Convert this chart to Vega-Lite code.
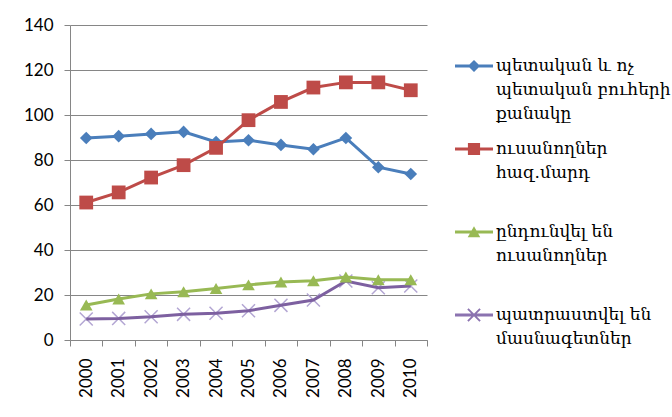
{
  "$schema": "https://vega.github.io/schema/vega-lite/v6.json",
  "width": 357,
  "height": 315,
  "autosize": "none",
  "padding": {"left": 70, "top": 25, "right": 245, "bottom": 77},
  "background": "white",
  "config": {
    "view": {"stroke": null},
    "font": "Lato",
    "style": {"guide-label": {"lineHeight": 24}}
  },
  "datasets": {
    "d": [
      {"year": "2000", "series": "պետական և ոչ պետական բուհերի քանակը", "value": 89.8},
      {"year": "2001", "series": "պետական և ոչ պետական բուհերի քանակը", "value": 90.6},
      {"year": "2002", "series": "պետական և ոչ պետական բուհերի քանակը", "value": 91.6},
      {"year": "2003", "series": "պետական և ոչ պետական բուհերի քանակը", "value": 92.5},
      {"year": "2004", "series": "պետական և ոչ պետական բուհերի քանակը", "value": 88.0},
      {"year": "2005", "series": "պետական և ոչ պետական բուհերի քանակը", "value": 88.8},
      {"year": "2006", "series": "պետական և ոչ պետական բուհերի քանակը", "value": 86.7},
      {"year": "2007", "series": "պետական և ոչ պետական բուհերի քանակը", "value": 84.8},
      {"year": "2008", "series": "պետական և ոչ պետական բուհերի քանակը", "value": 89.8},
      {"year": "2009", "series": "պետական և ոչ պետական բուհերի քանակը", "value": 76.8},
      {"year": "2010", "series": "պետական և ոչ պետական բուհերի քանակը", "value": 73.8},
      {"year": "2000", "series": "ուսանողներ հազ.մարդ", "value": 61.1},
      {"year": "2001", "series": "ուսանողներ հազ.մարդ", "value": 65.6},
      {"year": "2002", "series": "ուսանողներ հազ.մարդ", "value": 72.2},
      {"year": "2003", "series": "ուսանողներ հազ.մարդ", "value": 77.7},
      {"year": "2004", "series": "ուսանողներ հազ.մարդ", "value": 85.4},
      {"year": "2005", "series": "ուսանողներ հազ.մարդ", "value": 97.7},
      {"year": "2006", "series": "ուսանողներ հազ.մարդ", "value": 105.8},
      {"year": "2007", "series": "ուսանողներ հազ.մարդ", "value": 112.2},
      {"year": "2008", "series": "ուսանողներ հազ.մարդ", "value": 114.5},
      {"year": "2009", "series": "ուսանողներ հազ.մարդ", "value": 114.5},
      {"year": "2010", "series": "ուսանողներ հազ.մարդ", "value": 111.0},
      {"year": "2000", "series": "ընդունվել են ուսանողներ", "value": 15.6},
      {"year": "2001", "series": "ընդունվել են ուսանողներ", "value": 18.2},
      {"year": "2002", "series": "ընդունվել են ուսանողներ", "value": 20.5},
      {"year": "2003", "series": "ընդունվել են ուսանողներ", "value": 21.4},
      {"year": "2004", "series": "ընդունվել են ուսանողներ", "value": 22.9},
      {"year": "2005", "series": "ընդունվել են ուսանողներ", "value": 24.5},
      {"year": "2006", "series": "ընդունվել են ուսանողներ", "value": 25.8},
      {"year": "2007", "series": "ընդունվել են ուսանողներ", "value": 26.3},
      {"year": "2008", "series": "ընդունվել են ուսանողներ", "value": 28.0},
      {"year": "2009", "series": "ընդունվել են ուսանողներ", "value": 26.8},
      {"year": "2010", "series": "ընդունվել են ուսանողներ", "value": 26.8},
      {"year": "2000", "series": "պատրաստվել են մասնագետներ", "value": 9.3},
      {"year": "2001", "series": "պատրաստվել են մասնագետներ", "value": 9.6},
      {"year": "2002", "series": "պատրաստվել են մասնագետներ", "value": 10.3},
      {"year": "2003", "series": "պատրաստվել են մասնագետներ", "value": 11.4},
      {"year": "2004", "series": "պատրաստվել են մասնագետներ", "value": 11.9},
      {"year": "2005", "series": "պատրաստվել են մասնագետներ", "value": 13.0},
      {"year": "2006", "series": "պատրաստվել են մասնագետներ", "value": 15.4},
      {"year": "2007", "series": "պատրաստվել են մասնագետներ", "value": 17.8},
      {"year": "2008", "series": "պատրաստվել են մասնագետներ", "value": 26.2},
      {"year": "2009", "series": "պատրաստվել են մասնագետներ", "value": 23.2},
      {"year": "2010", "series": "պատրաստվել են մասնագետներ", "value": 24.0}
    ]
  },
  "data": {"name": "d"},
  "encoding": {
    "x": {
      "field": "year",
      "type": "ordinal",
      "bandPosition": 0.5,
      "scale": {"type": "band", "paddingInner": 0, "paddingOuter": 0},
      "axis": {
        "title": null,
        "labelAngle": -90,
        "labelAlign": "right",
        "labelBaseline": "middle",
        "tickBand": "extent",
        "tickSize": 6,
        "labelPadding": 12,
        "labelFontSize": 17,
        "labelColor": "#000000",
        "domainColor": "#868686",
        "tickColor": "#868686",
        "grid": false
      }
    },
    "y": {
      "field": "value",
      "type": "quantitative",
      "scale": {"domain": [0, 140], "nice": false, "zero": true},
      "axis": {
        "title": null,
        "values": [0, 20, 40, 60, 80, 100, 120, 140],
        "tickSize": 6,
        "labelPadding": 11,
        "labelFontSize": 17,
        "labelColor": "#000000",
        "gridColor": "#868686",
        "domainColor": "#868686",
        "tickColor": "#868686"
      }
    }
  },
  "layer": [
    {
      "transform": [{"filter": "datum.series == 'պատրաստվել են մասնագետներ'"}],
      "mark": {"type": "point", "shape": "M-1,-1L1,1M-1,1L1,-1", "filled": false, "stroke": "#B3A6D3", "strokeWidth": 1.5, "size": 170, "opacity": 1}
    },
    {
      "mark": {"type": "line", "strokeWidth": 3},
      "encoding": {
        "color": {
          "field": "series",
          "type": "nominal",
          "sort": ["պետական և ոչ պետական բուհերի քանակը", "ուսանողներ հազ.մարդ", "ընդունվել են ուսանողներ", "պատրաստվել են մասնագետներ"],
          "scale": {"range": ["#4A7EBB", "#BE4B48", "#98B954", "#7D60A0"]},
          "legend": null
        }
      }
    },
    {
      "transform": [{"filter": "datum.series == 'պետական և ոչ պետական բուհերի քանակը'"}],
      "mark": {"type": "point", "shape": "diamond", "filled": true, "size": 160, "opacity": 1, "color": "#4A7EBB"}
    },
    {
      "transform": [{"filter": "datum.series == 'ուսանողներ հազ.մարդ'"}],
      "mark": {"type": "point", "shape": "square", "filled": true, "size": 190, "opacity": 1, "color": "#BE4B48"}
    },
    {
      "transform": [{"filter": "datum.series == 'ընդունվել են ուսանողներ'"}],
      "mark": {"type": "point", "shape": "triangle-up", "filled": true, "size": 160, "opacity": 1, "color": "#98B954"}
    },
    {
      "mark": {"type": "point", "filled": true, "opacity": 0},
      "encoding": {
        "fill": {
          "field": "series",
          "type": "nominal",
          "scale": {
            "domain": ["պետական և ոչ պետական բուհերի քանակը", "ուսանողներ հազ.մարդ", "ընդունվել են ուսանողներ", "պատրաստվել են մասնագետներ"],
            "range": ["#4A7EBB", "#BE4B48", "#98B954", "#8B73B0"]
          },
          "legend": {
            "orient": "right",
            "offset": 14,
            "padding": 14,
            "title": null,
            "labelFont": "DejaVu Serif",
            "labelFontSize": 17,
            "labelColor": "#000000",
            "labelLimit": 0,
            "labelBaseline": "top",
            "labelOffset": 3,
            "symbolSize": 1444,
            "symbolStrokeWidth": 0,
            "symbolOpacity": 1,
            "gridAlign": "all",
            "rowPadding": -3,
            "labelExpr": "datum.label == 'պետական և ոչ պետական բուհերի քանակը' ? ['պետական և ոչ', 'պետական բուհերի', 'քանակը'] : datum.label == 'ուսանողներ հազ.մարդ' ? ['ուսանողներ', 'հազ.մարդ'] : datum.label == 'ընդունվել են ուսանողներ' ? ['ընդունվել են', 'ուսանողներ'] : ['պատրաստվել են', 'մասնագետներ']"
          }
        },
        "shape": {
          "field": "series",
          "type": "nominal",
          "scale": {
            "domain": ["պետական և ոչ պետական բուհերի քանակը", "ուսանողներ հազ.մարդ", "ընդունվել են ուսանողներ", "պատրաստվել են մասնագետներ"],
            "range": [
              "M-1,0.34L1,0.34L1,0.5L-1,0.5ZM0,0.1L0.32,0.42L0,0.74L-0.32,0.42Z",
              "M-1,0.34L1,0.34L1,0.5L-1,0.5ZM-0.32,0.1L0.32,0.1L0.32,0.74L-0.32,0.74Z",
              "M-1,0.34L1,0.34L1,0.5L-1,0.5ZM0,0.12L0.33,0.7L-0.33,0.7Z",
              "M-1,0.34L1,0.34L1,0.5L-1,0.5ZM-0.285,0.065L0.355,0.705L0.285,0.775L-0.355,0.135ZM-0.355,0.705L0.285,0.065L0.355,0.135L-0.285,0.775Z"
            ]
          },
          "legend": {
            "orient": "right",
            "offset": 14,
            "padding": 14,
            "title": null,
            "labelFont": "DejaVu Serif",
            "labelFontSize": 17,
            "labelColor": "#000000",
            "labelLimit": 0,
            "labelBaseline": "top",
            "labelOffset": 3,
            "symbolSize": 1444,
            "symbolStrokeWidth": 0,
            "symbolOpacity": 1,
            "gridAlign": "all",
            "rowPadding": -3,
            "labelExpr": "datum.label == 'պետական և ոչ պետական բուհերի քանակը' ? ['պետական և ոչ', 'պետական բուհերի', 'քանակը'] : datum.label == 'ուսանողներ հազ.մարդ' ? ['ուսանողներ', 'հազ.մարդ'] : datum.label == 'ընդունվել են ուսանողներ' ? ['ընդունվել են', 'ուսանողներ'] : ['պատրաստվել են', 'մասնագետներ']"
          }
        }
      }
    }
  ]
}
